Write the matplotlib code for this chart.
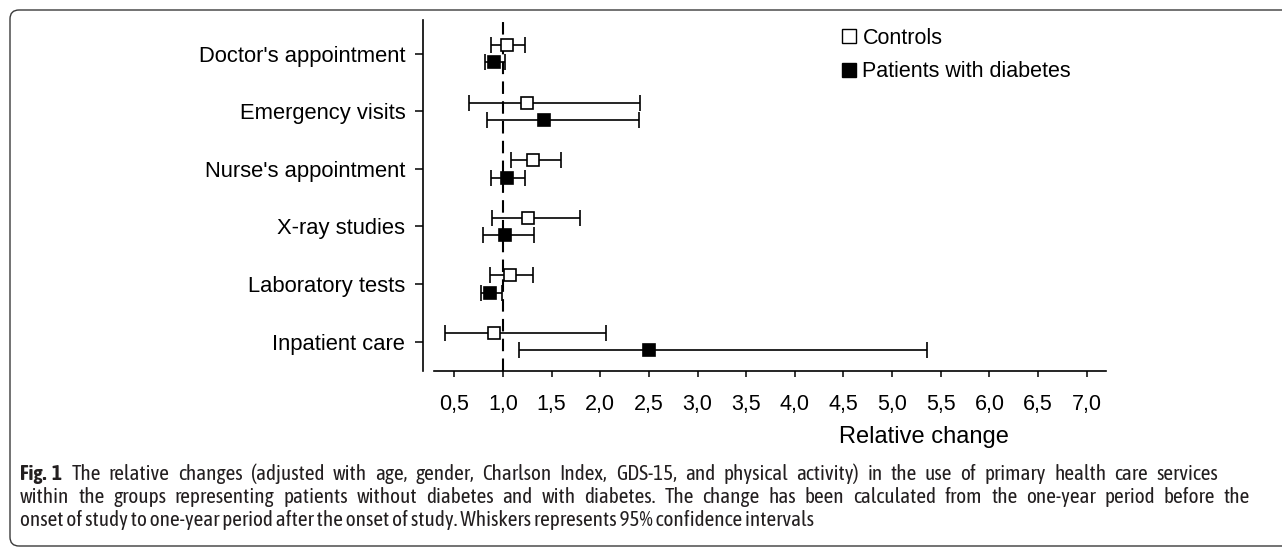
import matplotlib
matplotlib.use("Agg")
import matplotlib.pyplot as plt
from matplotlib.lines import Line2D
from matplotlib.patches import FancyBboxPatch
from matplotlib.transforms import IdentityTransform
import numpy as np

# ---------------- data ----------------
categories = ["Doctor's appointment", "Emergency visits", "Nurse's appointment",
              "X-ray studies", "Laboratory tests", "Inpatient care"]
ctrl_est = [1.04, 1.25, 1.31, 1.26, 1.07, 0.91]
ctrl_lo = [0.88, 0.65, 1.08, 0.89, 0.87, 0.40]
ctrl_hi = [1.23, 2.41, 1.60, 1.79, 1.31, 2.06]
diab_est = [0.91, 1.42, 1.04, 1.02, 0.87, 2.50]
diab_lo = [0.82, 0.84, 0.88, 0.79, 0.77, 1.16]
diab_hi = [1.02, 2.40, 1.23, 1.32, 0.99, 5.36]
xticks = [0.5, 1.0, 1.5, 2.0, 2.5, 3.0, 3.5, 4.0, 4.5, 5.0, 5.5, 6.0, 6.5, 7.0]
xtick_labels = ["0,5", "1,0", "1,5", "2,0", "2,5", "3,0", "3,5", "4,0",
                "4,5", "5,0", "5,5", "6,0", "6,5", "7,0"]
legend_labels = ["Controls", "Patients with diabetes"]
xlabel = "Relative change"
caption_bold = ["Fig.", "1"]
caption_lines = [
    "The relative changes (adjusted with age, gender, Charlson Index, GDS-15, and physical activity) in the use of primary health care services",
    "within the groups representing patients without diabetes and with diabetes. The change has been calculated from the one-year period before the",
    "onset of study to one-year period after the onset of study. Whiskers represents 95% confidence intervals",
]

W, H = 1282, 547
fig = plt.figure(figsize=(W / 100, H / 100), dpi=100)
fig.patch.set_facecolor("white")

AX_L, AX_R, AX_T, AX_B = 422.7, 1111.0, 20.0, 371.0
ax = fig.add_axes([AX_L / W, 1 - AX_B / H, (AX_R - AX_L) / W, (AX_B - AX_T) / H])

FONT = ["Liberation Sans", "Arial", "DejaVu Sans"]

n = len(categories)
ypos = np.arange(n, 0, -1).astype(float)
off = 0.15

ce = np.array(ctrl_est); cl = np.array(ctrl_lo); ch = np.array(ctrl_hi)
de = np.array(diab_est); dl = np.array(diab_lo); dh = np.array(diab_hi)

ax.axvline(1.0, color="black", lw=1.5, ls=(0, (6, 3.5)), zorder=1)

ax.errorbar(ce, ypos + off, xerr=[ce - cl, ch - ce], fmt="none", ecolor="black",
            elinewidth=1.2, capsize=5.5, capthick=1.2, zorder=2)
ax.errorbar(de, ypos - off, xerr=[de - dl, dh - de], fmt="none", ecolor="black",
            elinewidth=1.2, capsize=5.5, capthick=1.2, zorder=2)
ax.plot(ce, ypos + off, "s", mfc="white", mec="black", ms=8.8, mew=1.2, zorder=3, ls="none")
ax.plot(de, ypos - off, "s", mfc="black", mec="black", ms=8.8, mew=1.2, zorder=3, ls="none")

ax.set_xlim(0.175, 7.25)
ax.set_ylim(0.491, 6.585)
for s in ["top", "right"]:
    ax.spines[s].set_visible(False)
ax.spines["bottom"].set_bounds(0.29, 7.2)
ax.spines["left"].set_linewidth(1.2)
ax.spines["bottom"].set_linewidth(1.2)

ax.set_xticks(xticks)
ax.set_xticklabels(xtick_labels, fontsize=15.5, family=FONT)
ax.set_yticks(ypos)
ax.set_yticklabels(categories, fontsize=15.8, family=FONT)
ax.tick_params(axis="x", direction="out", length=4.5, width=1.1, pad=12)
ax.tick_params(axis="y", direction="out", length=5.5, width=1.1, pad=7)

fig.text(924 / W, 1 - 437 / H, xlabel, fontsize=17, family=FONT, ha="center", va="center")

handles = [Line2D([], [], marker="s", ls="none", mfc="white", mec="black", ms=9.5, mew=1.0),
           Line2D([], [], marker="s", ls="none", mfc="black", mec="black", ms=9.5, mew=1.0)]
fig.legend(handles, legend_labels, loc="upper left", bbox_to_anchor=(843 / W, 1 - 28 / H),
           frameon=False, prop={"family": FONT, "size": 15.5}, handlelength=0.6,
           handletextpad=0.3, labelspacing=0.58, borderpad=0, borderaxespad=0)

# frame
frame = FancyBboxPatch((10, 1), W + 20, H - 10 - 1, boxstyle="round,pad=0,rounding_size=9",
                       transform=IdentityTransform(), facecolor="none", edgecolor="#3a3a3a",
                       lw=1.0, clip_on=False)
fig.patches.append(frame)

# caption (justified lines 1-2, natural last line)
CAP_FONT = ["Asap Condensed", "Open Sans", "DejaVu Sans"]
cap_color = "#231f20"
renderer = fig.canvas.get_renderer()


def text_width(s, size, weight="normal"):
    t = fig.text(0, 0, s, fontsize=size, family=CAP_FONT, weight=weight)
    w = t.get_window_extent(renderer).width
    t.remove()
    return w


cap_size = 11 * (795.0 / text_width(caption_lines[2], 11))
baselines = [480, 503, 526]
x0 = 20


def justified(line, xl, xr, base):
    words = line.split(" ")
    widths = [text_width(w_, cap_size) for w_ in words]
    gap = (xr - xl - sum(widths)) / (len(words) - 1)
    x = xl
    for w_, wd in zip(words, widths):
        fig.text(x / W, 1 - base / H, w_, fontsize=cap_size, family=CAP_FONT,
                 color=cap_color, va="baseline")
        x += wd + gap


xb = x0
for i, b in enumerate(caption_bold):
    fig.text(xb / W, 1 - baselines[0] / H, b, fontsize=cap_size, family=CAP_FONT,
             weight="bold", color=cap_color, va="baseline")
    xb += text_width(b, cap_size, "bold") + (5 if i == 0 else 0)
justified(caption_lines[0], xb + 10, 1218, baselines[0])
justified(caption_lines[1], x0, 1250, baselines[1])
fig.text(x0 / W, 1 - baselines[2] / H, caption_lines[2], fontsize=cap_size, family=CAP_FONT,
         color=cap_color, va="baseline")

fig.savefig("out.png", dpi=100)
